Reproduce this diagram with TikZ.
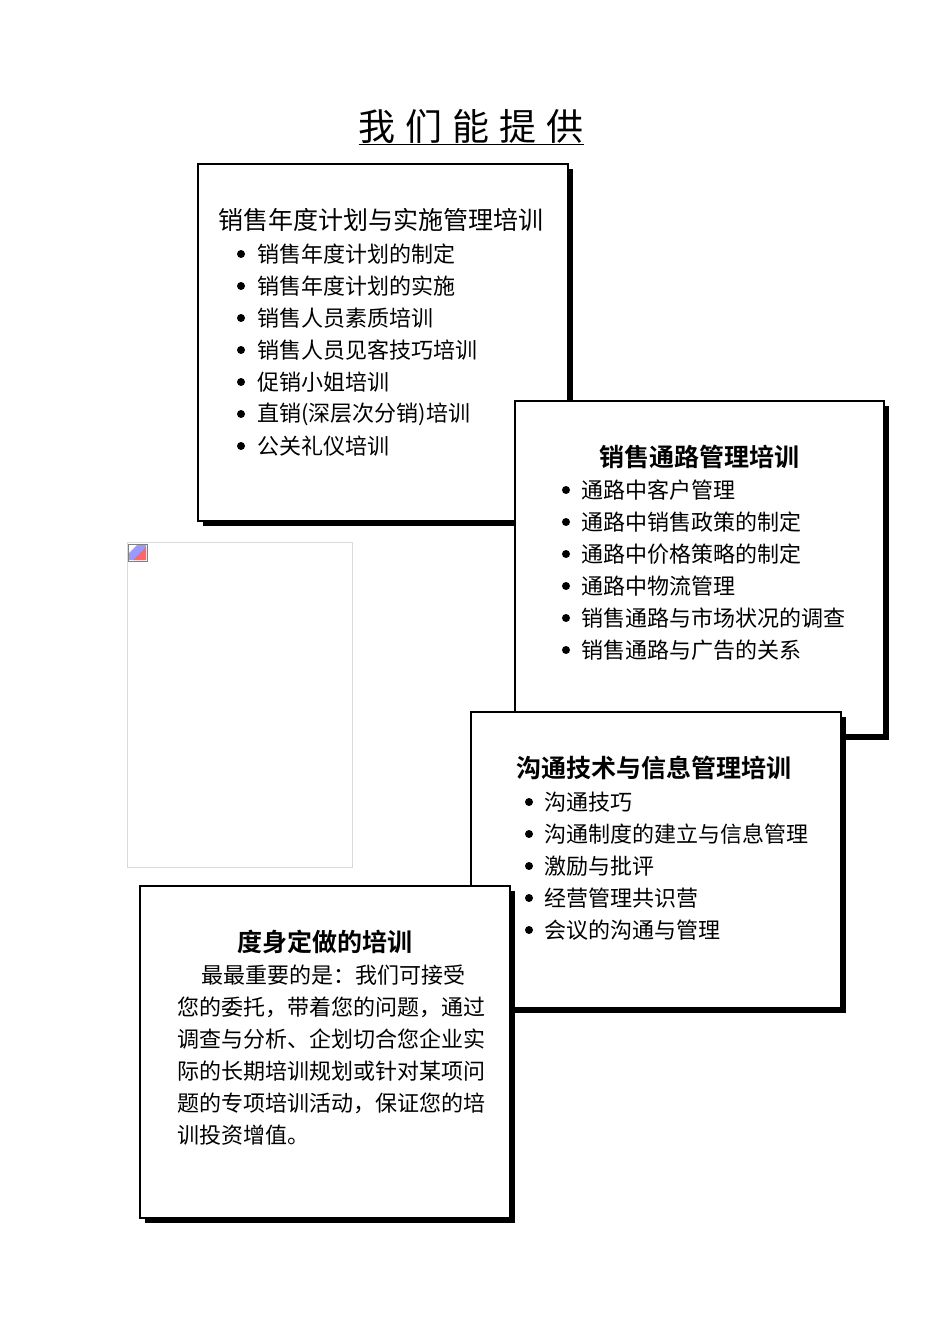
\documentclass[tikz,border=0pt]{standalone}
\usepackage{fontspec}
\newfontfamily\cjk{Noto Sans CJK SC}
\newfontfamily\cjkb{Noto Sans CJK SC Bold}
\tikzset{box/.style={draw,line width=1.2pt,fill=white},
 shadow/.style={fill=black},
 item/.style={anchor=west,inner sep=0pt,font=\cjk\fontsize{22}{22}\selectfont},
 head/.style={inner sep=0pt,font=\cjkb\fontsize{25}{25}\selectfont}}
\newcommand{\mybox}[4]{%
 \fill[shadow] (#1+5,#2+5) rectangle (#3+5,#4+5);
 \draw[box] (#1,#2) rectangle (#3,#4);}
\begin{document}
\begin{tikzpicture}[x=1pt,y=-1pt]
\useasboundingbox[fill=white] (0,0) rectangle (950,1344);
\node[inner sep=0pt,font=\cjk\fontsize{37}{37}\selectfont] (title) at (471,127) {\underline{我\hspace{10pt}们\hspace{10pt}能\hspace{10pt}提\hspace{10pt}供}};
% box1
\mybox{198}{164}{568}{521}
\node[head,anchor=west,font=\cjk\fontsize{25}{25}\selectfont] (h1) at (218,220) {销售年度计划与实施管理培训};
\foreach \t [count=\i] in {销售年度计划的制定,销售年度计划的实施,销售人员素质培训,销售人员见客技巧培训,促销小姐培训,直销(深层次分销)培训,公关礼仪培训}{
 \fill (241,222+\i*32) circle (4);
 \node[item] (a\i) at (257,222+\i*32) {\t};}
% image placeholder
\draw[gray!30] (127,542) rectangle (352,867);
\draw[gray] (128,544) rectangle (147,561);
\fill[blue!40] (129,553) -- (137,545) -- (146,545) -- (146,560) -- (129,560) -- cycle;
\fill[red!60] (133,560) -- (146,547) -- (146,560) -- cycle;
% box2
\mybox{515}{401}{884}{735}
\node[head] (h2) at (699,457) {销售通路管理培训};
\foreach \t [count=\i] in {通路中客户管理,通路中销售政策的制定,通路中价格策略的制定,通路中物流管理,销售通路与市场状况的调查,销售通路与广告的关系}{
 \fill (566,458+\i*32) circle (4);
 \node[item] (b\i) at (581,458+\i*32) {\t};}
% box3
\mybox{471}{712}{841}{1008}
\node[head,anchor=west] (h3) at (516,768) {沟通技术与信息管理培训};
\foreach \t [count=\i] in {沟通技巧,沟通制度的建立与信息管理,激励与批评,经营管理共识营,会议的沟通与管理}{
 \fill (529,770+\i*32) circle (4);
 \node[item] (c\i) at (544,770+\i*32) {\t};}
% box4
\mybox{140}{886}{510}{1218}
\node[head] (h4) at (325,942) {度身定做的培训};
\node[item] (d1) at (201,975) {最最重要的是：我们可接受};
\foreach \t [count=\i] in {您的委托，带着您的问题，通过,调查与分析、企划切合您企业实,际的长期培训规划或针对某项问,题的专项培训活动，保证您的培,训投资增值。}{
 \node[item] (e\i) at (177,975+\i*32) {\t};}
\end{tikzpicture}
\end{document}
